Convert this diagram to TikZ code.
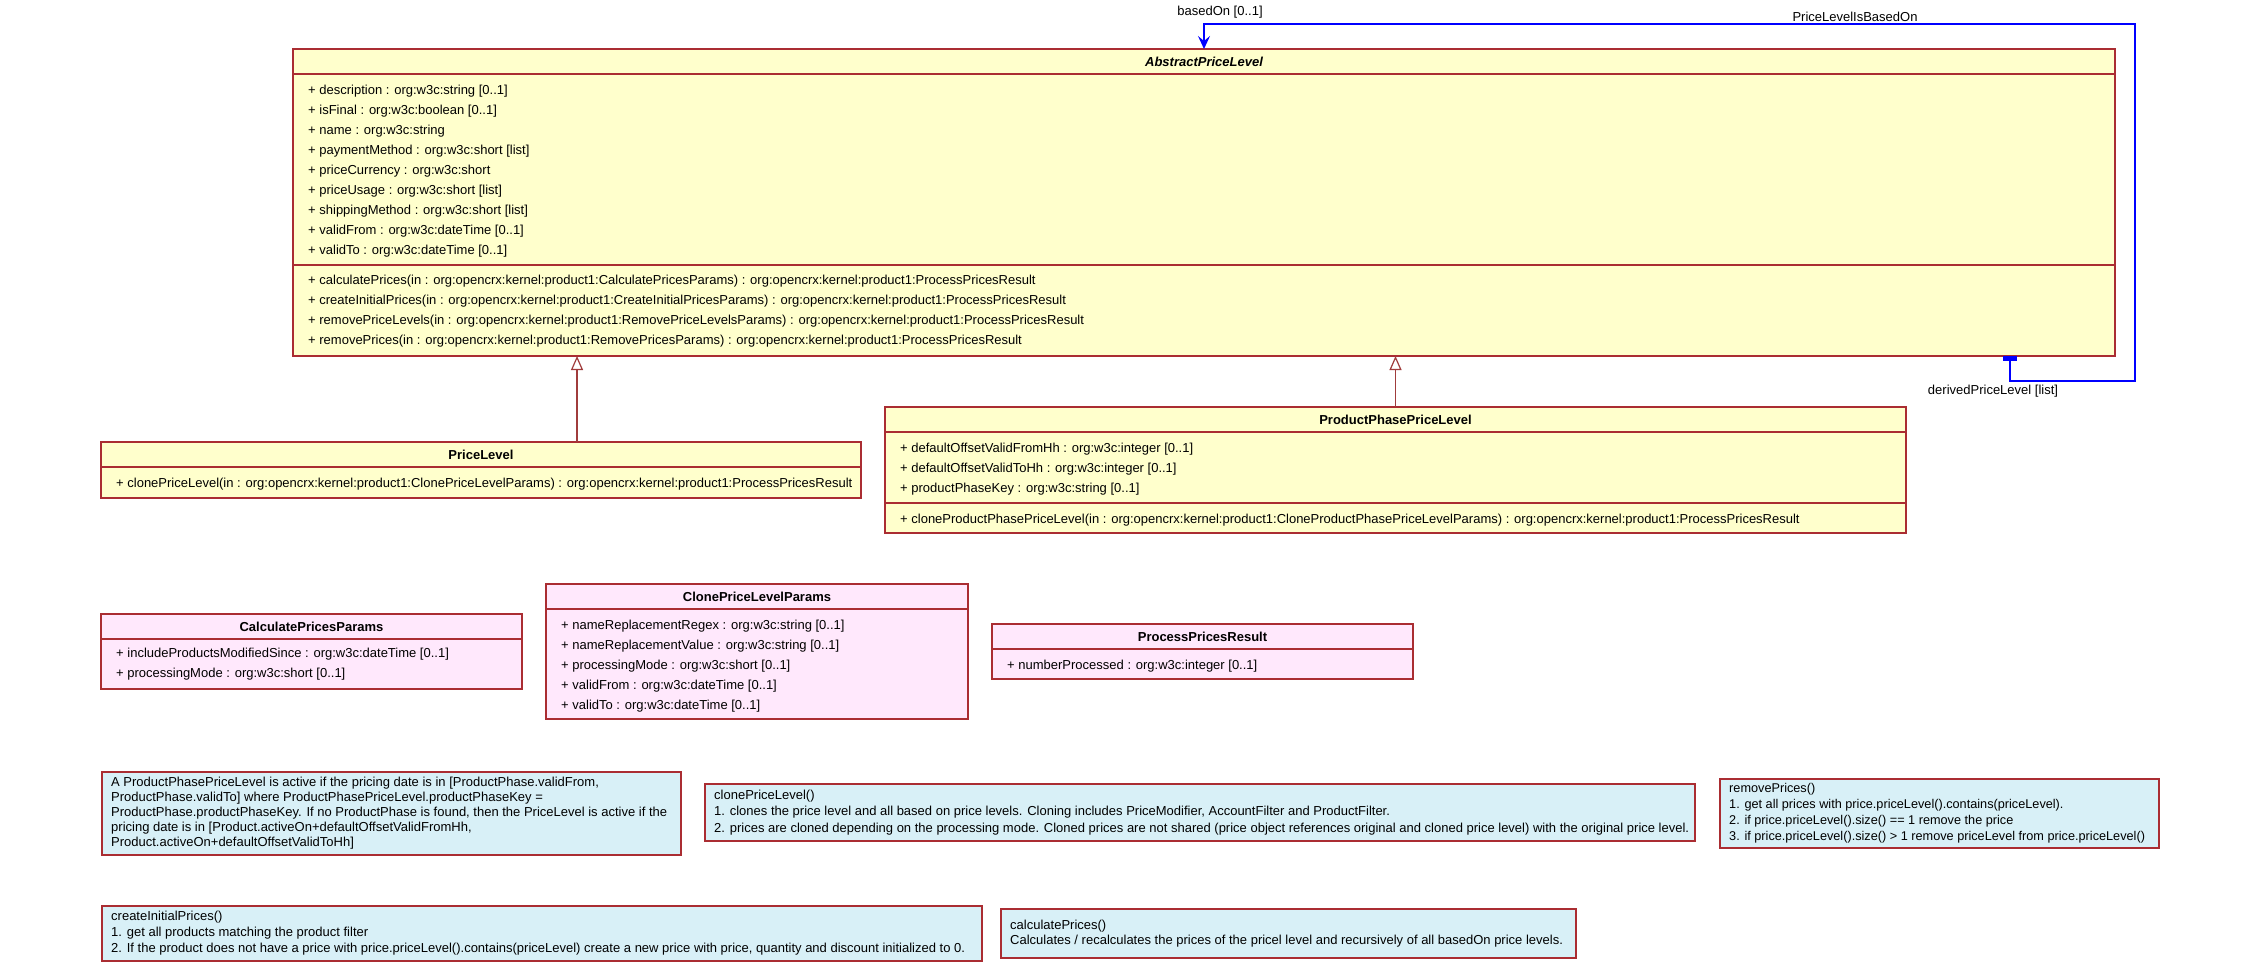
\documentclass[tikz,border=0pt]{standalone}
\usepackage{fontspec}
\setmainfont{Liberation Sans}
\usetikzlibrary{arrows.meta}
\definecolor{cborder}{RGB}{170,45,50}
\definecolor{cyellow}{RGB}{255,255,204}
\definecolor{cpink}{RGB}{255,232,252}
\definecolor{cnote}{RGB}{216,240,247}
\definecolor{cblue}{RGB}{0,0,255}
\definecolor{cgen}{RGB}{160,60,60}
\tikzset{
 box/.style={draw=cborder, line width=1.5pt, anchor=north west, inner sep=0pt, outer sep=0pt},
 ybox/.style={box, fill=cyellow},
 pbox/.style={box, fill=cpink},
 sepline/.style={draw=cborder, line width=1.5pt},
 ttl/.style={font=\fontsize{13}{15}\selectfont\bfseries, inner sep=0pt},
 row/.style={font=\fontsize{13}{15}\selectfont, anchor=west, inner sep=0pt, text height=9.5pt, text depth=2.7pt, yshift=-1.5pt},
 note/.style={draw=cborder, line width=1.5pt, fill=cnote, anchor=north west, inner sep=0pt},
 notetext/.style={anchor=west, inner sep=0pt, align=left, font=\fontsize{13}{15}\selectfont},
 lbl/.style={font=\fontsize{13}{15}\selectfont, inner sep=0pt},
 assoc/.style={draw=cblue, line width=1.3pt},
 gen/.style={draw=cgen, line width=1.2pt, -{Triangle[open, length=14pt, width=12pt, fill=white]}},
}
\newcommand\crow[4]{\node[row] (#1) at (#2,#3) {#4};}
\begin{document}
\begin{tikzpicture}[x=1pt,y=-1pt]
\useasboundingbox (0,0) rectangle (2268,966);
\fill[white] (0,0) rectangle (2268,966);

% AbstractPriceLevel
\node[ybox, minimum width=1822pt, minimum height=307pt] (apl) at (293,49) {};
\draw[sepline] ([yshift=-25pt]apl.north west) -- ([yshift=-25pt]apl.north east);
\draw[sepline] ([yshift=-216pt]apl.north west) -- ([yshift=-216pt]apl.north east);
\node[ttl, font=\fontsize{13}{15}\selectfont\bfseries\itshape] (aplt) at ([yshift=-12.5pt]apl.north) {AbstractPriceLevel};
\crow{apla1}{308}{90}{+ description : org:w3c:string [0..1]}
\crow{apla2}{308}{110}{+ isFinal : org:w3c:boolean [0..1]}
\crow{apla3}{308}{130}{+ name : org:w3c:string}
\crow{apla4}{308}{150}{+ paymentMethod : org:w3c:short [list]}
\crow{apla5}{308}{170}{+ priceCurrency : org:w3c:short}
\crow{apla6}{308}{190}{+ priceUsage : org:w3c:short [list]}
\crow{apla7}{308}{210}{+ shippingMethod : org:w3c:short [list]}
\crow{apla8}{308}{230}{+ validFrom : org:w3c:dateTime [0..1]}
\crow{apla9}{308}{250}{+ validTo : org:w3c:dateTime [0..1]}
\crow{aplo1}{308}{280}{+ calculatePrices(in : org:opencrx:kernel:product1:CalculatePricesParams) : org:opencrx:kernel:product1:ProcessPricesResult}
\crow{aplo2}{308}{300}{+ createInitialPrices(in : org:opencrx:kernel:product1:CreateInitialPricesParams) : org:opencrx:kernel:product1:ProcessPricesResult}
\crow{aplo3}{308}{320}{+ removePriceLevels(in : org:opencrx:kernel:product1:RemovePriceLevelsParams) : org:opencrx:kernel:product1:ProcessPricesResult}
\crow{aplo4}{308}{340}{+ removePrices(in : org:opencrx:kernel:product1:RemovePricesParams) : org:opencrx:kernel:product1:ProcessPricesResult}

% PriceLevel
\node[ybox, minimum width=760pt, minimum height=56pt] (pl) at (101,442) {};
\draw[sepline] ([yshift=-25pt]pl.north west) -- ([yshift=-25pt]pl.north east);
\node[ttl] (plt) at ([yshift=-12.5pt]pl.north) {PriceLevel};
\crow{plo1}{116}{483}{+ clonePriceLevel(in : org:opencrx:kernel:product1:ClonePriceLevelParams) : org:opencrx:kernel:product1:ProcessPricesResult}

% ProductPhasePriceLevel
\node[ybox, minimum width=1021pt, minimum height=126pt] (ppl) at (885,407) {};
\draw[sepline] ([yshift=-25pt]ppl.north west) -- ([yshift=-25pt]ppl.north east);
\draw[sepline] ([yshift=-96pt]ppl.north west) -- ([yshift=-96pt]ppl.north east);
\node[ttl] (pplt) at ([yshift=-12.5pt]ppl.north) {ProductPhasePriceLevel};
\crow{ppla1}{900}{448}{+ defaultOffsetValidFromHh : org:w3c:integer [0..1]}
\crow{ppla2}{900}{468}{+ defaultOffsetValidToHh : org:w3c:integer [0..1]}
\crow{ppla3}{900}{488}{+ productPhaseKey : org:w3c:string [0..1]}
\crow{pplo1}{900}{518.5}{+ cloneProductPhasePriceLevel(in : org:opencrx:kernel:product1:CloneProductPhasePriceLevelParams) : org:opencrx:kernel:product1:ProcessPricesResult}

% CalculatePricesParams
\node[pbox, minimum width=421pt, minimum height=75pt] (cpp) at (101,614) {};
\draw[sepline] ([yshift=-25pt]cpp.north west) -- ([yshift=-25pt]cpp.north east);
\node[ttl] (cppt) at ([yshift=-12.5pt]cpp.north) {CalculatePricesParams};
\crow{cppa1}{116}{653}{+ includeProductsModifiedSince : org:w3c:dateTime [0..1]}
\crow{cppa2}{116}{673}{+ processingMode : org:w3c:short [0..1]}

% ClonePriceLevelParams
\node[pbox, minimum width=422pt, minimum height=135pt] (cplp) at (546,584) {};
\draw[sepline] ([yshift=-25pt]cplp.north west) -- ([yshift=-25pt]cplp.north east);
\node[ttl] (cplpt) at ([yshift=-12.5pt]cplp.north) {ClonePriceLevelParams};
\crow{cplpa1}{561}{625}{+ nameReplacementRegex : org:w3c:string [0..1]}
\crow{cplpa2}{561}{645}{+ nameReplacementValue : org:w3c:string [0..1]}
\crow{cplpa3}{561}{665}{+ processingMode : org:w3c:short [0..1]}
\crow{cplpa4}{561}{685}{+ validFrom : org:w3c:dateTime [0..1]}
\crow{cplpa5}{561}{705}{+ validTo : org:w3c:dateTime [0..1]}

% ProcessPricesResult
\node[pbox, minimum width=421pt, minimum height=55pt] (ppr) at (992,624) {};
\draw[sepline] ([yshift=-25pt]ppr.north west) -- ([yshift=-25pt]ppr.north east);
\node[ttl] (pprt) at ([yshift=-12.5pt]ppr.north) {ProcessPricesResult};
\crow{ppra1}{1007}{665}{+ numberProcessed : org:w3c:integer [0..1]}

% Notes
\node[note, minimum width=579pt, minimum height=83pt] (n1) at (101,771) {};
\node[notetext] (n1t) at ([xshift=10pt]n1.west) {A ProductPhasePriceLevel is active if the pricing date is in [ProductPhase.validFrom,\\ProductPhase.validTo] where ProductPhasePriceLevel.productPhaseKey =\\ProductPhase.productPhaseKey. If no ProductPhase is found, then the PriceLevel is active if the\\pricing date is in [Product.activeOn+defaultOffsetValidFromHh,\\Product.activeOn+defaultOffsetValidToHh]};

\node[note, minimum width=990pt, minimum height=57pt] (nc) at (704,783) {};
\node[notetext, font=\fontsize{13}{16.5}\selectfont] (nct) at ([xshift=10pt]nc.west) {clonePriceLevel()\\1. clones the price level and all based on price levels. Cloning includes PriceModifier, AccountFilter and ProductFilter.\\2. prices are cloned depending on the processing mode. Cloned prices are not shared (price object references original and cloned price level) with the original price level.};

\node[note, minimum width=439pt, minimum height=69pt] (nr) at (1719,778) {};
\node[notetext, font=\fontsize{12.7}{16.3}\selectfont] (nrt) at ([xshift=10pt]nr.west) {removePrices()\\1. get all prices with price.priceLevel().contains(priceLevel).\\2. if price.priceLevel().size() == 1 remove the price\\3. if price.priceLevel().size() > 1 remove priceLevel from price.priceLevel()};

\node[note, minimum width=880pt, minimum height=55pt] (ni) at (101,905) {};
\node[notetext, font=\fontsize{13}{16.3}\selectfont] (nit) at ([xshift=10pt]ni.west) {createInitialPrices()\\1. get all products matching the product filter\\2. If the product does not have a price with price.priceLevel().contains(priceLevel) create a new price with price, quantity and discount initialized to 0.};

\node[note, minimum width=575pt, minimum height=49pt] (nk) at (1000,908) {};
\node[notetext] (nkt) at ([xshift=10pt]nk.west) {calculatePrices()\\Calculates / recalculates the prices of the pricel level and recursively of all basedOn price levels.};

% Generalizations
\coordinate (gx1) at (577,0);
\draw[gen] (pl.north -| gx1) -- (apl.south -| gx1);
\draw[gen] (ppl.north) -- (ppl.north |- apl.south);

% Self association
\coordinate (dx) at (2010,0);
\coordinate (c1) at (2135,381);
\coordinate (c2) at (1204,24);
\node[fill=cblue, inner sep=0pt, minimum width=14pt, minimum height=5pt, anchor=north] (dmark) at (apl.south -| dx) {};
\draw[assoc, -{Stealth[length=13pt, width=12pt, inset=5pt]}] (apl.south -| dx) |- (c1) |- (c2) -- (apl.north);
\node[lbl] (lb1) at (1220,12) {basedOn [0..1]};
\node[lbl] (lb2) at (1855,17) {PriceLevelIsBasedOn};
\node[lbl] (lb3) at (1993,391) {derivedPriceLevel [list]};
\end{tikzpicture}
\end{document}
